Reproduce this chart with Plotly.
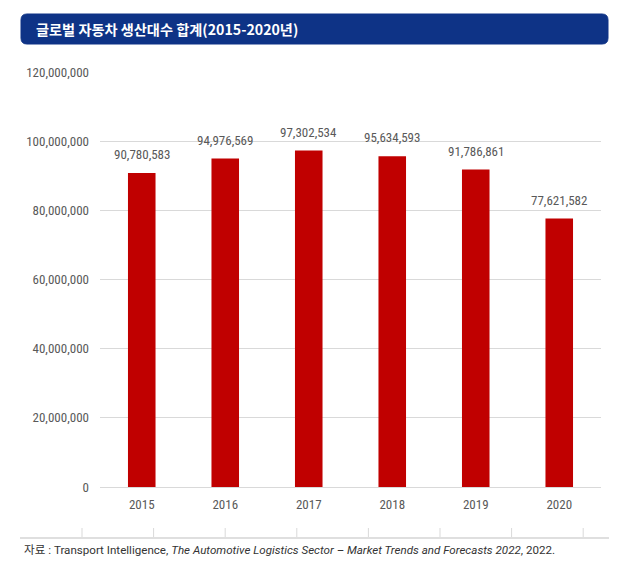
import plotly.graph_objects as go

years = ["2015", "2016", "2017", "2018", "2019", "2020"]
production = [90780583, 94976569, 97302534, 95634593, 91786861, 77621582]
y_ticks = [0, 20000000, 40000000, 60000000, 80000000, 100000000, 120000000]

title_text = "글로벌 자동차 생산대수 합계(2015-2020년)"
source_text = ("자료 : Transport Intelligence, <i>The Automotive Logistics Sector – "
               "Market Trends and Forecasts 2022</i>, 2022.")

# page body has an 8px margin, so the figure sits 8px in from the window corner
OFF = 8
W, H = 642 - 2 * OFF, 577 - 2 * OFF
L, T = 100 - OFF, 72 - OFF
R = W - (601 - OFF)
B = H - (487 - OFF)
pw = W - L - R
ph = H - T - B


def px_x(p):
    # p is a pixel position in the window
    return (p - OFF - L) / pw


def px_y(p):
    return (H - B - (p - OFF)) / ph


label_font = "Liberation Sans Narrow, Roboto Condensed, Arial Narrow, Liberation Sans, sans-serif"

fig = go.Figure(go.Bar(
    x=years,
    y=production,
    marker=dict(color="#C00000", line=dict(width=0)),
    width=0.33,
    hoverinfo="x+y",
))

# value labels above bars (category index, since "2015" would be read as a position)
for i, v in enumerate(production):
    fig.add_annotation(x=i, y=v, xref="x", yref="y", text=f"{v:,}", showarrow=False,
                       yanchor="bottom", yshift=9,
                       font=dict(family=label_font, size=13, color="#595959"))

# title bar with rounded corners
x0, x1 = 21, 608
y0, y1 = 14, 44
r = 6
path = (f"M {px_x(x0 + r)} {px_y(y0)} L {px_x(x1 - r)} {px_y(y0)} "
        f"Q {px_x(x1)} {px_y(y0)} {px_x(x1)} {px_y(y0 + r)} "
        f"L {px_x(x1)} {px_y(y1 - r)} "
        f"Q {px_x(x1)} {px_y(y1)} {px_x(x1 - r)} {px_y(y1)} "
        f"L {px_x(x0 + r)} {px_y(y1)} "
        f"Q {px_x(x0)} {px_y(y1)} {px_x(x0)} {px_y(y1 - r)} "
        f"L {px_x(x0)} {px_y(y0 + r)} "
        f"Q {px_x(x0)} {px_y(y0)} {px_x(x0 + r)} {px_y(y0)} Z")
fig.add_shape(type="path", path=path, xref="paper", yref="paper",
              fillcolor="#0E3386", line=dict(color="#0E3386", width=1), layer="above")
fig.add_annotation(x=px_x(34), y=px_y(29), xref="paper", yref="paper",
                   xanchor="left", yanchor="middle", showarrow=False,
                   text=f"<b>{title_text}</b>",
                   font=dict(family="Noto Sans CJK KR", size=14.2, color="white"))

# bottom rule with small tick marks
fig.add_shape(type="line", xref="paper", yref="paper",
              x0=px_x(20), x1=px_x(609), y0=px_y(538), y1=px_y(538),
              line=dict(color="#BFBFBF", width=1.2))
for i in range(8):
    tx = 82 + i * 71.6
    fig.add_shape(type="line", xref="paper", yref="paper",
                  x0=px_x(tx), x1=px_x(tx), y0=px_y(528), y1=px_y(537),
                  line=dict(color="#D9D9D9", width=1))

fig.add_annotation(x=px_x(22), y=px_y(550), xref="paper", yref="paper",
                   xanchor="left", yanchor="middle", showarrow=False,
                   text=source_text,
                   font=dict(family="Roboto, Noto Sans CJK KR", size=11.6, color="#333333"))

fig.update_layout(
    width=W, height=H,
    margin=dict(l=L, r=R, t=T, b=B),
    paper_bgcolor="white",
    plot_bgcolor="white",
    showlegend=False,
    xaxis=dict(type="category", categoryorder="array", categoryarray=years,
               range=[-0.5, len(years) - 0.5], autorange=False,
               showgrid=False, showline=False, ticks="", ticklabelstandoff=8,
               tickfont=dict(family=label_font, size=13, color="#595959")),
    yaxis=dict(range=[0, 120000000], autorange=False, tickvals=y_ticks,
               ticktext=[f"{t:,}" for t in y_ticks],
               showgrid=True, gridcolor="#D9D9D9", gridwidth=1,
               zeroline=True, zerolinecolor="#D9D9D9", zerolinewidth=1,
               showline=False, ticks="", ticklabelstandoff=10,
               tickfont=dict(family=label_font, size=13, color="#595959")),
)

fig.write_html("out.html")
